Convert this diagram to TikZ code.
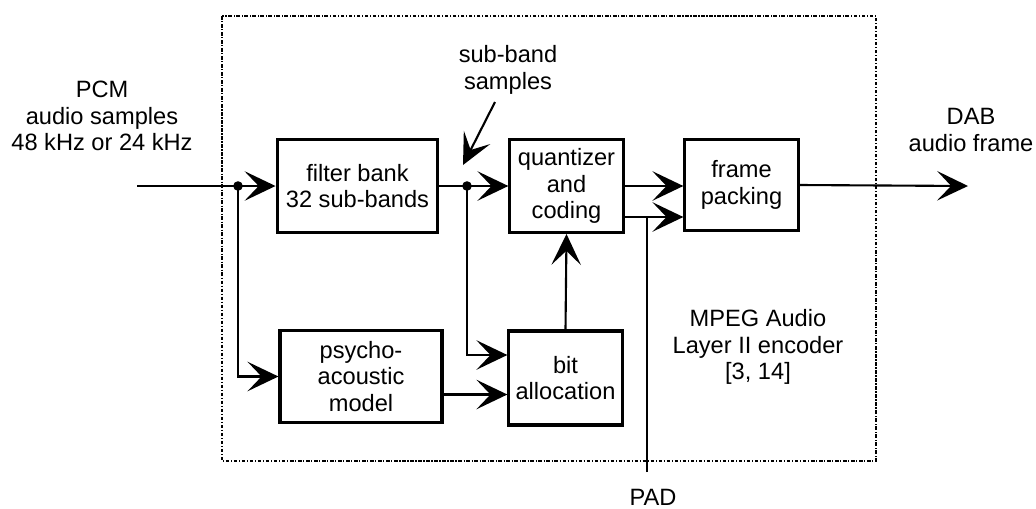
\documentclass[tikz,border=0pt]{standalone}
\usepackage{fontspec}
\setmainfont{Liberation Sans}
\usetikzlibrary{arrows.meta,calc}

\tikzset{
  blk/.style={draw, line width=2.2pt, inner sep=0pt, align=center, minimum height=2.32cm},
  sig/.style={line width=1.5pt, -{Stealth[length=22pt,width=21pt,inset=10pt]}},
  wire/.style={line width=1.5pt},
  encframe/.style={line width=0.8pt, dash pattern=on 2.5pt off 1.2pt on 0.8pt off 1.2pt},
}

\begin{document}
\begin{tikzpicture}[x=0.025cm, y=-0.025cm, font=\fontsize{16.8pt}{18.7pt}\selectfont]
\useasboundingbox (0,0) rectangle (1036,508);

% encoder boundary
\draw[encframe] (222,16) rectangle (876,461);

% blocks
\node[blk, minimum width=4.02cm] (fb) at (357.5,186) {filter bank\\32 sub-bands};
\node[blk, minimum width=2.83cm] (qc) at (566.5,186) {quantizer\\and\\coding};
\node[blk, minimum width=2.83cm, minimum height=2.28cm] (fp) at (741.5,185) {frame\\packing};
\node[blk, minimum width=4.05cm] (pam) at (361,376.5) {psycho-\\acoustic\\model};
\node[blk, minimum width=2.83cm, minimum height=2.35cm] (ba) at (565.5,378) {bit\\allocation};

% labels
\node[align=center] (pcm) at (102,116) {PCM\\audio samples\\48 kHz or 24 kHz};
\node[align=center] (sbs) at (508,70) {sub-band\\samples};
\node[align=center] (dab) at (971,130) {DAB\\audio frame};
\node[align=center] (mpeg) at (758,347) {MPEG Audio\\Layer II encoder\\{}[3, 14]};
\node (pad) at (653,497) {PAD};

\coordinate (pcmin) at (137,186);
\coordinate (tapA) at (238,186);
\coordinate (tapB) at (467,186);
\coordinate (dabout) at (968,186);
\coordinate (sbtail) at (495,102);
\coordinate (sbtip) at (463,165);
\coordinate (padend) at (647,472);
\coordinate (qlo) at ($(qc.east)+(0,31)$);
\coordinate (pb) at ($(pam.east)+(0,18)$);

% signal paths
\draw[sig] (pcmin) -- (fb.west);
\draw[sig] (fb.east) -- (qc.west);
\draw[sig] (tapA) |- (pam.west);
\draw[sig] (tapB) |- ($(ba.west)+(0,-23)$);
\draw[sig] (pb) -- (pb -| ba.west);
\draw[sig] (ba.north) -- (qc.south);
\draw[sig] (qc.east) -- (qc.east -| fp.west);
\draw[sig] (qlo) -- (qlo -| fp.west);
\draw[wire] (padend) -- (padend |- qlo);
\draw[sig] (fp.east) -- (dabout);
\draw[sig] (sbtail) -- (sbtip);
\fill (tapA) circle[radius=0.12cm];
\fill (tapB) circle[radius=0.12cm];

\end{tikzpicture}
\end{document}
